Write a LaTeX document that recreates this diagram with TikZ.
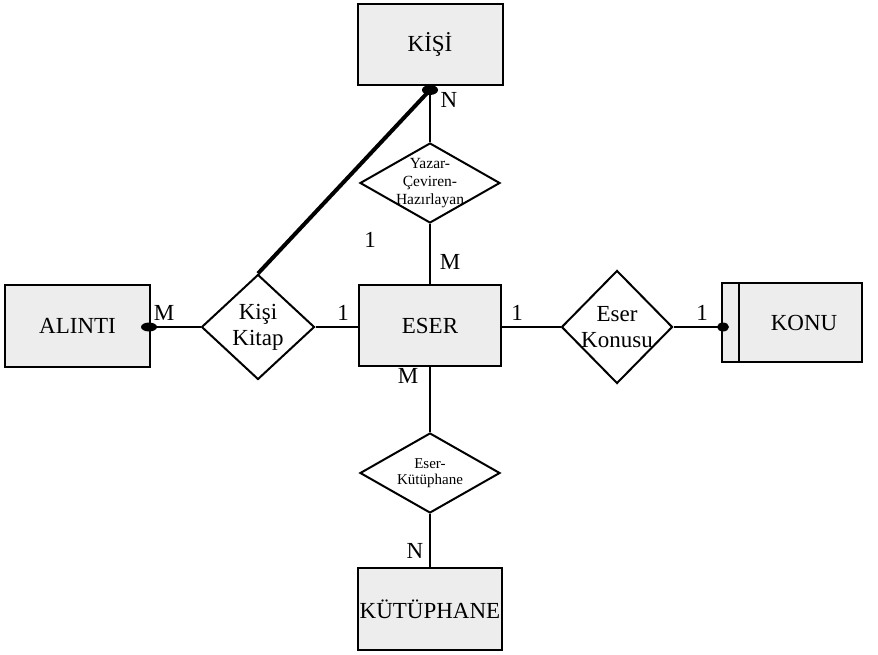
\documentclass[tikz,border=0pt]{standalone}
\usepackage{fontspec}
\setmainfont{Liberation Serif}
\usetikzlibrary{shapes.geometric}
\tikzset{
  entity/.style={draw, line width=2pt, fill=black!7, inner sep=0pt, font=\fontsize{23}{26}\selectfont},
  rel/.style={draw, line width=2pt, shape=diamond, inner sep=0pt, fill=white},
  reltext/.style={align=center, inner sep=0pt},
  conn/.style={line width=2pt},
  card/.style={font=\fontsize{23}{26}\selectfont, inner sep=0pt},
  blob/.style={fill=black}
}
\begin{document}
\begin{tikzpicture}[x=1pt,y=-1pt]
\useasboundingbox (0,0) rectangle (878,655);
% entities
\node[entity, minimum width=145, minimum height=81] (kisi) at (430,44.5) {KİŞİ};
\node[entity, minimum width=145, minimum height=82] (alinti) at (77.5,326) {ALINTI};
\node[entity, minimum width=142, minimum height=81] (eser) at (430,325.5) {ESER};
\node[entity, minimum width=140, minimum height=79] (konu) at (792,322.5) {\hspace*{24pt}KONU};
\draw[line width=2pt] ([xshift=18pt]konu.north west) -- ([xshift=18pt]konu.south west);
\node[entity, minimum width=144, minimum height=82] (kutup) at (430,609) {KÜTÜPHANE};
% relationships
\node[rel, minimum width=140, minimum height=80] (yc) at (430,183) {};
\node[reltext, font=\fontsize{15.5}{18}\selectfont] (yct) at (yc) {Yazar-\\Çeviren-\\Hazırlayan};
\node[rel, minimum width=113, minimum height=105] (kk) at (258,327) {};
\node[reltext, font=\fontsize{23}{26}\selectfont] (kkt) at (kk) {Kişi\\Kitap};
\node[rel, minimum width=111, minimum height=113] (ek) at (617,327) {};
\node[reltext, font=\fontsize{23}{26}\selectfont] (ekt) at (ek) {Eser\\Konusu};
\node[rel, minimum width=140, minimum height=80] (eku) at (430,473) {};
\node[reltext, font=\fontsize{15}{16}\selectfont] (ekut) at (eku) {Eser-\\Kütüphane};
% connectors
\draw[conn] (kisi.south) -- (yc.north);
\draw[conn] (yc.south) -- (eser.north);
\draw[conn] (eser.south) -- (eku.north);
\draw[conn] (eku.south) -- (kutup.north);
\draw[conn] (alinti.east |- kk.west) -- (kk.west);
\draw[conn] (kk.east) -- (eser.west |- kk.east);
\draw[conn] (eser.east |- ek.west) -- (ek.west);
\draw[conn] (ek.east) -- (konu.west |- ek.east);
\coordinate (kb) at ([yshift=-4pt]kisi.south);
\draw[line width=4pt] (kb) -- (kk.north);
% blobs
\fill[blob] (kb) ellipse (8 and 5);
\fill[blob] ([xshift=-2pt]alinti.east |- kk.west) ellipse (8 and 4.5);
\fill[blob] ([xshift=2pt]konu.west |- ek.east) ellipse (6 and 4.5);
% cardinalities
\node[card] (c1) at (449,100) {N};
\node[card] (c2) at (370,240) {1};
\node[card] (c3) at (450,262) {M};
\node[card] (c4) at (408,376) {M};
\node[card] (c5) at (415,551) {N};
\node[card] (c6) at (164,313) {M};
\node[card] (c7) at (343,313) {1};
\node[card] (c8) at (517,313) {1};
\node[card] (c9) at (702,313) {1};
\end{tikzpicture}
\end{document}
